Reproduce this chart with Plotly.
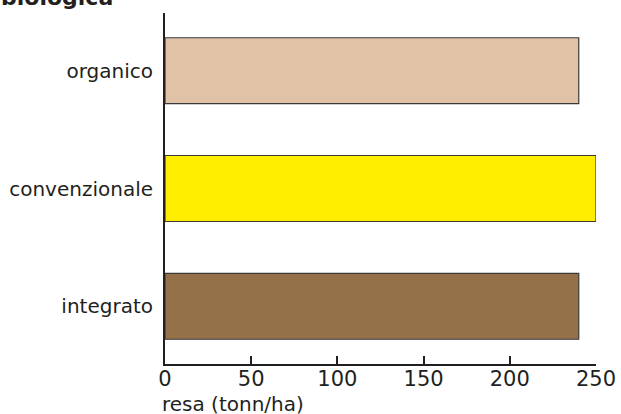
import plotly.graph_objects as go

categories = ["integrato", "convenzionale", "organico"]
yields = [240, 250, 240]
bar_colors = ["#95714a", "#ffed00", "#e0c2a6"]
x_ticks = [0, 50, 100, 150, 200, 250]

text_color = "#231f20"
font_family = "DejaVu Sans"

fig = go.Figure(
    go.Bar(
        y=categories,
        x=yields,
        orientation="h",
        marker=dict(color=bar_colors, line=dict(color="#3a3a3a", width=1.2)),
        width=0.56,
    )
)

fig.update_layout(
    template="none",
    width=621,
    height=414,
    margin=dict(l=165, r=25, t=13, b=50, autoexpand=False),
    paper_bgcolor="white",
    plot_bgcolor="white",
    showlegend=False,
    font=dict(family=font_family, size=20, color=text_color),
    xaxis=dict(
        range=[0, 250],
        tickvals=x_ticks,
        ticks="inside",
        ticklen=8,
        tickwidth=2,
        tickcolor=text_color,
        showline=True,
        linecolor=text_color,
        linewidth=2,
        showgrid=False,
        zeroline=False,
        automargin=False,
        ticklabelstandoff=-5,
        tickfont=dict(size=21),
    ),
    yaxis=dict(
        range=[-0.49, 2.49],
        showline=True,
        linecolor=text_color,
        linewidth=2,
        showgrid=False,
        zeroline=False,
        automargin=False,
        ticks="",
        ticklabelstandoff=6,
        tickfont=dict(size=20),
    ),
)

fig.add_annotation(
    text="<b>biologica</b>",
    xref="paper", yref="paper",
    x=-166 / 431, y=1.004,
    xanchor="left", yanchor="bottom",
    showarrow=False,
    font=dict(size=22),
)

fig.add_annotation(
    text="resa (tonn/ha)",
    xref="paper", yref="paper",
    x=-5 / 431, y=-26 / 351,
    xanchor="left", yanchor="top",
    showarrow=False,
    font=dict(size=20),
)

fig.write_html("out.html")
